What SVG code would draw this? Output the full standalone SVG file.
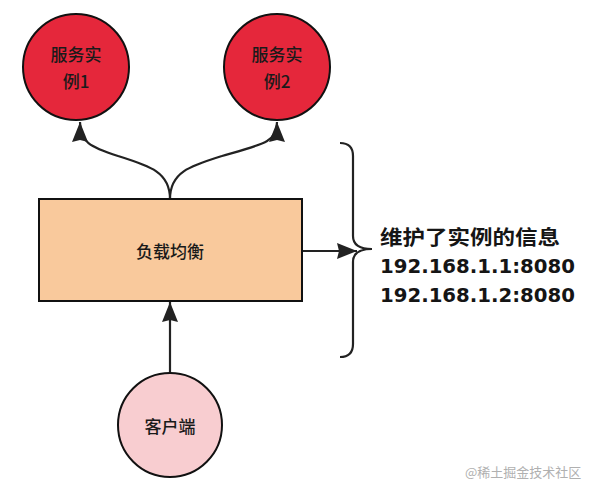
<svg xmlns="http://www.w3.org/2000/svg" width="591" height="494" viewBox="0 0 591 494">
<style>
.lbl{font-family:"Noto Sans CJK SC","DejaVu Sans",sans-serif;font-size:17px;font-weight:500;fill:#1a1a1a;text-anchor:middle}
.info{font-family:"DejaVu Sans","Noto Sans CJK SC",sans-serif;font-weight:bold;fill:#151515}
.edge{fill:none;stroke:#222;stroke-width:2.2}
.node{stroke:#111;stroke-width:2}
</style>
<defs>
<marker id="arr" markerUnits="userSpaceOnUse" markerWidth="22" markerHeight="18" refX="20" refY="8" orient="auto">
<path d="M0,0 L20,8 L0,16 L2,8 z" fill="#222"/>
</marker>
</defs>
<rect width="591" height="494" fill="#fff"/>
<g id="connectors">
<path class="edge" d="M170,199 C170,172 150,166 118,156 C90,147 80,142 80,122" marker-end="url(#arr)"/>
<path class="edge" d="M170,199 C170,172 190,166 222,156 C264,144 277,142 277,122" marker-end="url(#arr)"/>
<path class="edge" d="M302,251 L357,251" marker-end="url(#arr)"/>
<path class="edge" d="M170,373 L170,302" marker-end="url(#arr)"/>
<path class="edge" d="M340,143 Q353,143 353,156 L353,236 Q353,249 372,249 Q353,249 353,262 L353,344 Q353,357 340,357"/>
</g>
<g id="svc1">
<circle class="node" cx="76" cy="67" r="53" fill="#E5273B"/>
<text class="lbl" x="76" y="61">服务实</text>
<text class="lbl" x="76" y="88">例1</text>
</g>
<g id="svc2">
<circle class="node" cx="277" cy="67" r="53" fill="#E5273B"/>
<text class="lbl" x="277" y="61">服务实</text>
<text class="lbl" x="277" y="88">例2</text>
</g>
<g id="lb">
<rect class="node" x="39" y="199" width="263" height="102" fill="#F9C99C"/>
<text class="lbl" x="170" y="258">负载均衡</text>
</g>
<g id="client">
<circle class="node" cx="170" cy="425" r="52" fill="#F8CDD0"/>
<text class="lbl" x="170" y="433">客户端</text>
</g>
<g id="info">
<text x="380" y="245" textLength="180" lengthAdjust="spacingAndGlyphs" style="font-family:'Noto Sans CJK SC',sans-serif;font-weight:600;font-size:20px;fill:#151515">维护了实例的信息</text>
<text class="info" x="380" y="273" font-size="19" textLength="195" lengthAdjust="spacingAndGlyphs">192.168.1.1:8080</text>
<text class="info" x="380" y="302" font-size="19" textLength="195" lengthAdjust="spacingAndGlyphs">192.168.1.2:8080</text>
</g>
<text x="465" y="477" style="font-family:'Noto Sans CJK SC',sans-serif;font-size:13px;fill:#b0b0b0">@稀土掘金技术社区</text>
</svg>
